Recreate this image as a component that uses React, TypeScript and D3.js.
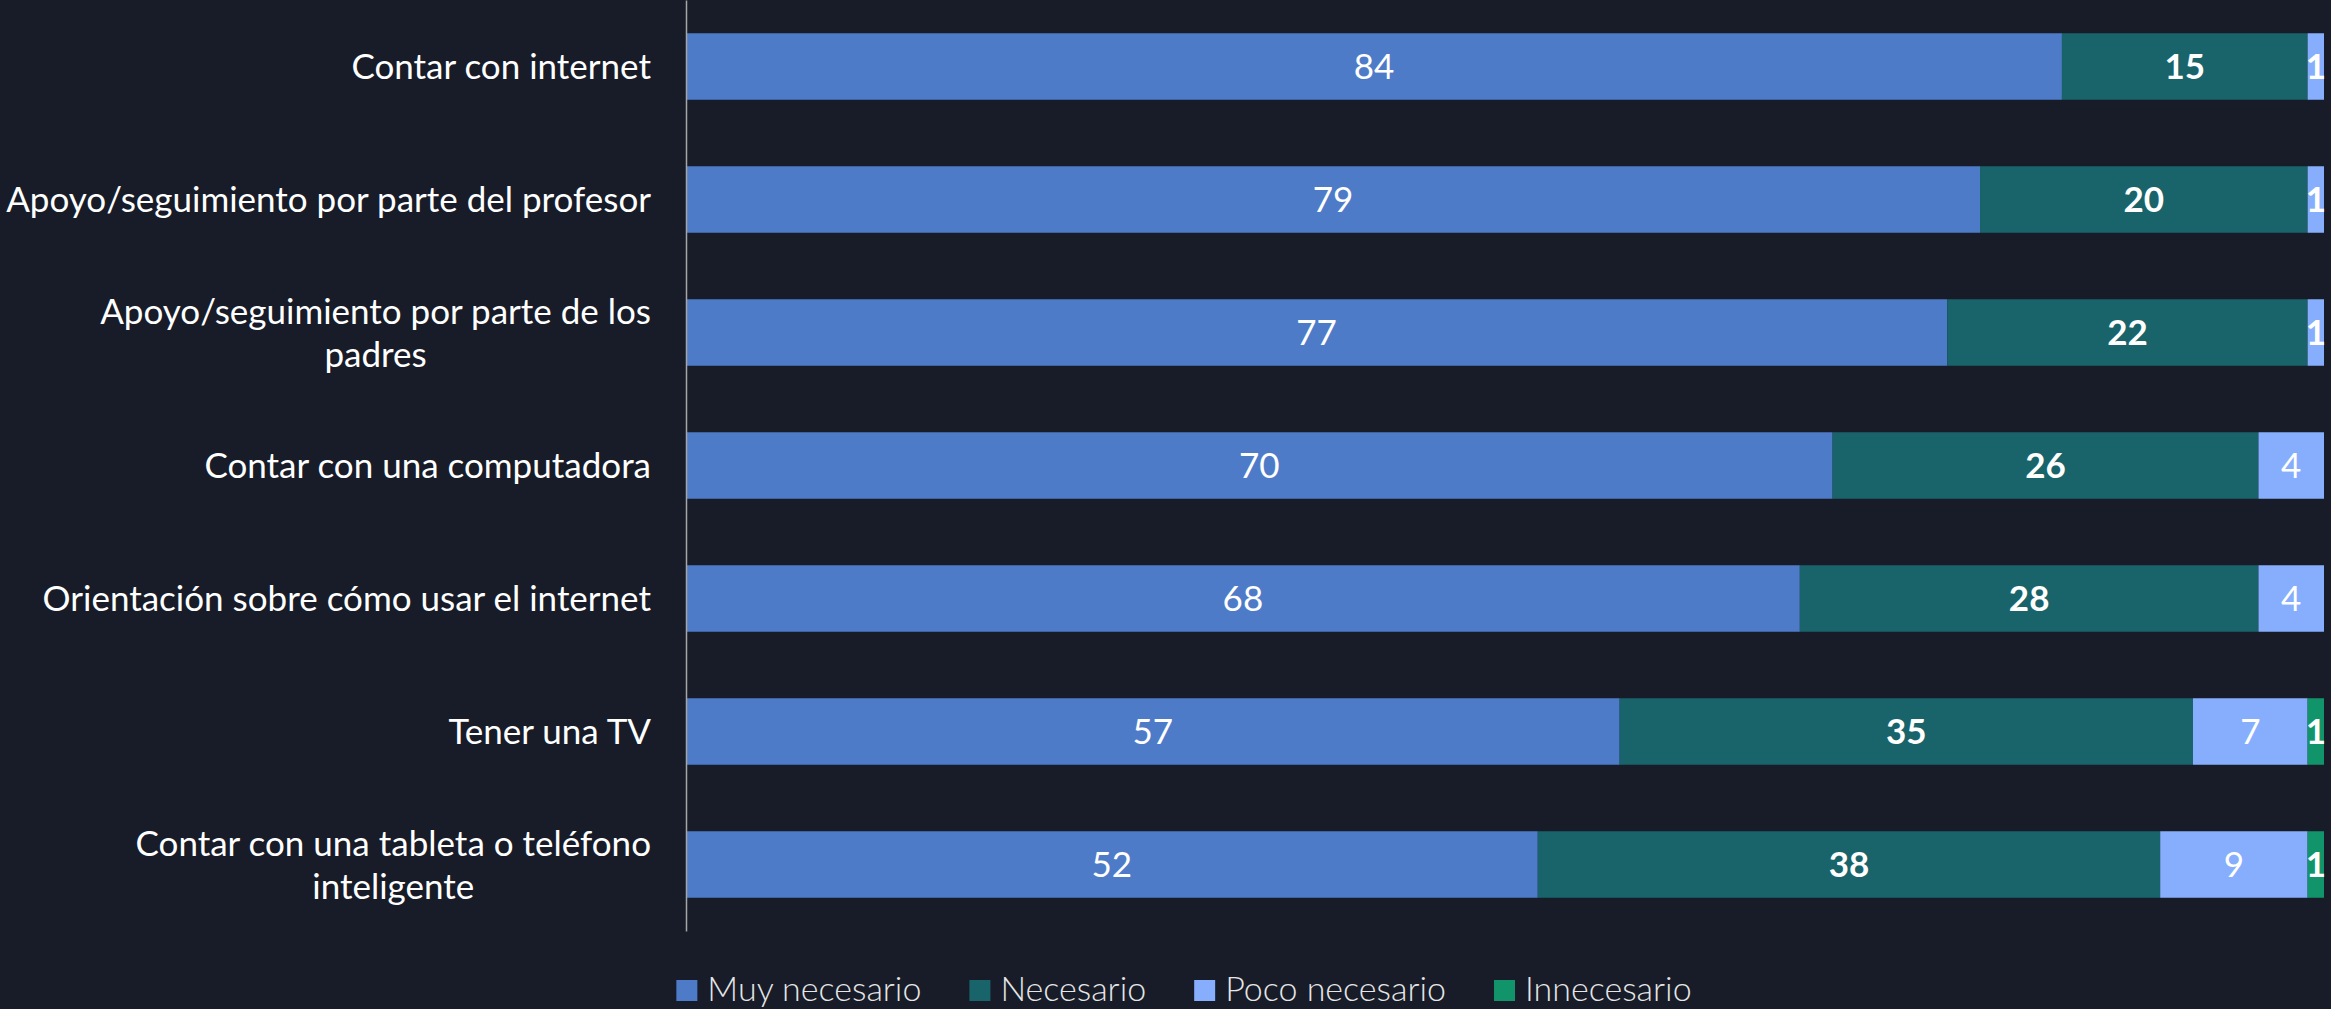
import React, { useEffect, useRef } from "react";
import * as d3 from "d3";

const W = 2331;
const H = 1009;

const categories = [
  "Contar con internet",
  "Apoyo/seguimiento por parte del profesor",
  "Apoyo/seguimiento por parte de los\npadres",
  "Contar con una computadora",
  "Orientación sobre cómo usar el internet",
  "Tener una TV",
  "Contar con una tableta o teléfono\ninteligente",
];
const seriesNames = ["Muy necesario", "Necesario", "Poco necesario", "Innecesario"];
const muyNecesario = [84, 79, 77, 70, 68, 57, 52];
const necesario = [15, 20, 22, 26, 28, 35, 38];
const pocoNecesario = [1, 1, 1, 4, 4, 7, 9];
const innecesario = [0, 0, 0, 0, 0, 1, 1];

const colors = ["#4e7bc8", "#19646b", "#86aefc", "#12946b"];
const labelWeights = [400, 700, 400, 700];
const BG = "#171c28";
const FONT = "Lato, 'Open Sans', sans-serif";

export default function App() {
  const ref = useRef<SVGSVGElement | null>(null);

  useEffect(() => {
    const svg = d3.select(ref.current);
    svg.selectAll("*").remove();

    const valuesBySeries = [muyNecesario, necesario, pocoNecesario, innecesario];
    const rows = categories.map((c, i) => {
      const r: any = { cat: c };
      seriesNames.forEach((s, k) => (r[s] = valuesBySeries[k][i]));
      return r;
    });
    const stacked = d3.stack().keys(seriesNames)(rows);

    const x = d3.scaleLinear().domain([0, 100]).range([686, 2324]);
    const y = d3
      .scaleBand()
      .domain(categories)
      .range([0, 931])
      .paddingInner(0.5)
      .paddingOuter(0.25);

    svg.append("rect").attr("width", W).attr("height", H).attr("fill", BG);

    // bars
    stacked.forEach((layer, k) => {
      const g = svg.append("g").attr("fill", colors[k]);
      g.selectAll("rect")
        .data(layer.filter((d) => d[1] - d[0] > 0))
        .join("rect")
        .attr("x", (d) => x(d[0]))
        .attr("width", (d) => x(d[1]) - x(d[0]))
        .attr("y", (d) => y((d.data as any).cat)!)
        .attr("height", y.bandwidth());
    });

    // data labels
    stacked.forEach((layer, k) => {
      svg
        .append("g")
        .selectAll("text")
        .data(layer.filter((d) => d[1] - d[0] > 0))
        .join("text")
        .attr("x", (d) => (x(d[0]) + x(d[1])) / 2)
        .attr("y", (d) => y((d.data as any).cat)! + y.bandwidth() / 2)
        .attr("dy", "0.36em")
        .attr("text-anchor", "middle")
        .attr("fill", "#ffffff")
        .attr("font-family", FONT)
        .attr("font-size", 35)
        .attr("font-weight", (d) => (d[1] - d[0] <= 1 ? 700 : labelWeights[k]))
        .text((d) => String(d[1] - d[0]));
    });

    // axis line
    const axis = d3.axisLeft(y).tickSize(0).tickFormat(() => "");
    const ag = svg.append("g").attr("transform", `translate(${x(0)},0)`).call(axis);
    ag.select(".domain").attr("stroke", "#a6a6a6").attr("stroke-width", 1.5);
    ag.selectAll(".tick").remove();

    // category labels
    const labelRight = 651;
    const lineGap = 43;
    categories.forEach((c) => {
      const lines = c.split("\n");
      const cy = y(c)! + y.bandwidth() / 2;
      const g = svg.append("g");
      const texts = lines.map((ln, j) =>
        g
          .append("text")
          .attr("y", cy + (j - (lines.length - 1) / 2) * lineGap)
          .attr("dy", "0.36em")
          .attr("text-anchor", "middle")
          .attr("fill", "#ffffff")
          .attr("font-family", FONT)
          .attr("font-size", 35)
          .text(ln)
      );
      const widths = texts.map((t) => (t.node() as SVGTextElement).getComputedTextLength());
      const maxW = Math.max(...widths);
      texts.forEach((t) => t.attr("x", labelRight - maxW / 2));
    });

    // legend
    const lg = svg.append("g");
    const items = seriesNames.map((s, k) => {
      const g = lg.append("g");
      g.append("rect").attr("width", 21).attr("height", 21).attr("y", 980).attr("fill", colors[k]);
      const t = g
        .append("text")
        .attr("x", 31)
        .attr("y", 1001)
        .attr("fill", "#e6e6e6")
        .attr("font-family", FONT)
        .attr("font-size", 34)
        .attr("font-weight", 300)
        .text(s);
      const w = 31 + (t.node() as SVGTextElement).getComputedTextLength();
      return { g, w };
    });
    const gap = 48;
    const total = items.reduce((a, b) => a + b.w, 0) + gap * (items.length - 1);
    let cx = 1184 - total / 2;
    items.forEach((it) => {
      it.g.attr("transform", `translate(${cx},0)`);
      cx += it.w + gap;
    });
  }, []);

  return (
    <svg
      ref={ref}
      width={W}
      height={H}
      style={{ position: "absolute", left: 0, top: 0, display: "block" }}
    />
  );
}
